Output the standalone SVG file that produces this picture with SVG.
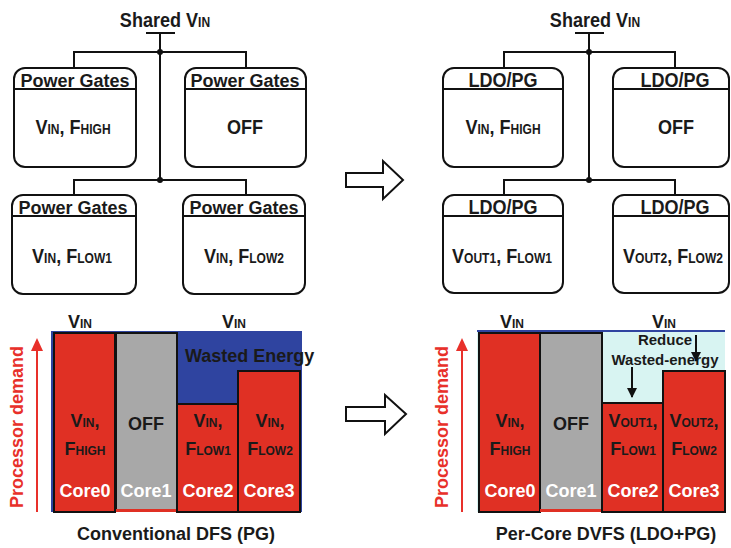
<svg xmlns="http://www.w3.org/2000/svg" width="731" height="548" viewBox="0 0 731 548">
<defs>
<style>
text{font-family:"Liberation Sans",Arial,sans-serif;font-weight:bold;font-size:18px;fill:#1a1a1a}
.c{text-anchor:middle}
.s{font-size:12px}
.big{font-size:21px}
.big .s{font-size:14px}
.box{fill:#fff;stroke:#111;stroke-width:2}
.ln{stroke:#111;stroke-width:2;fill:none}
.bar{fill:#e03024;stroke:#111;stroke-width:2}
.w{fill:#fff}
.r{fill:#e8302a}
.sm{font-size:15px}
.oa{fill:#fff;stroke:#111;stroke-width:2;stroke-linejoin:miter}
</style>
<marker id="ah" viewBox="0 0 10 10" refX="9" refY="5" markerWidth="5" markerHeight="5" orient="auto"><path d="M0,0 L10,5 L0,10 z" fill="#111"/></marker>
</defs>

<g id="tl-title"><text class="c big" transform="translate(165,27) scale(0.86,1)">Shared V<tspan class="s">IN</tspan></text></g>
<g id="connectors">
<path class="ln" d="M146,33 H175" stroke-width="4"/>
<path class="ln" d="M160,33 V180 M74,68 V52 H246 V68 M74,195 V180 H246 V195"/>
<circle cx="160" cy="52" r="3" fill="#111"/>
<circle cx="160" cy="180" r="3" fill="#111"/>
<path class="ln" d="M589,33 V180 M504,68 V52 H675 V68 M504,195 V180 H675 V195"/>
<path class="ln" d="M575,33 H604" stroke-width="4"/>
<circle cx="589" cy="52" r="3" fill="#111"/>
<circle cx="589" cy="180" r="3" fill="#111"/>
</g>
<g id="tl-box1"><rect class="box" x="14" y="68" width="122" height="99" rx="11"/><path class="ln" d="M14,89 H136"/>
<text class="c" x="75" y="87">Power Gates</text><text class="c big" transform="translate(73,134) scale(0.86,1)">V<tspan class="s">IN</tspan>, F<tspan class="s">HIGH</tspan></text></g>
<g id="tl-box2"><rect class="box" x="185" y="68" width="121" height="99" rx="11"/><path class="ln" d="M185,89 H306"/>
<text class="c" x="245" y="87">Power Gates</text><text class="c big" transform="translate(245,134) scale(0.86,1)">OFF</text></g>
<g id="tl-box3"><rect class="box" x="12" y="195" width="124" height="99" rx="11"/><path class="ln" d="M12,216 H136"/>
<text class="c" x="73" y="214">Power Gates</text><text class="c big" transform="translate(72,263) scale(0.86,1)">V<tspan class="s">IN</tspan>, F<tspan class="s">LOW1</tspan></text></g>
<g id="tl-box4"><rect class="box" x="183" y="195" width="122" height="99" rx="11"/><path class="ln" d="M183,216 H305"/>
<text class="c" x="244" y="214">Power Gates</text><text class="c big" transform="translate(244,263) scale(0.86,1)">V<tspan class="s">IN</tspan>, F<tspan class="s">LOW2</tspan></text></g>

<g id="tr-title"><text class="c big" transform="translate(595,27) scale(0.86,1)">Shared V<tspan class="s">IN</tspan></text></g>
<g id="tr-box1"><rect class="box" x="443" y="68" width="120" height="99" rx="11"/><path class="ln" d="M443,89 H563"/>
<text class="c big" transform="translate(503,87) scale(0.86,1)">LDO/PG</text><text class="c big" transform="translate(503,134) scale(0.86,1)">V<tspan class="s">IN</tspan>, F<tspan class="s">HIGH</tspan></text></g>
<g id="tr-box2"><rect class="box" x="613" y="68" width="116" height="99" rx="11"/><path class="ln" d="M613,89 H729"/>
<text class="c big" transform="translate(675,87) scale(0.86,1)">LDO/PG</text><text class="c big" transform="translate(676,134) scale(0.86,1)">OFF</text></g>
<g id="tr-box3"><rect class="box" x="443" y="195" width="120" height="98" rx="11"/><path class="ln" d="M443,216 H563"/>
<text class="c big" transform="translate(503,214) scale(0.86,1)">LDO/PG</text><text class="c big" transform="translate(502,263) scale(0.86,1)">V<tspan class="s">OUT1</tspan>, F<tspan class="s">LOW1</tspan></text></g>
<g id="tr-box4"><rect class="box" x="613" y="195" width="116" height="98" rx="11"/><path class="ln" d="M613,216 H729"/>
<text class="c big" transform="translate(675,214) scale(0.86,1)">LDO/PG</text><text class="c big" transform="translate(673,263) scale(0.86,1)">V<tspan class="s">OUT2</tspan>, F<tspan class="s">LOW2</tspan></text></g>

<g id="arrow-top"><polygon class="oa" points="346,173 383,173 383,161 403,180 383,199 383,187 346,187"/></g>
<g id="arrow-bottom"><polygon class="oa" points="346,407 385,407 385,395 406,414 385,434 385,421 346,421"/></g>

<g id="bl-chart">
<rect x="51" y="331" width="251" height="181" fill="#2f44a0"/>
<rect class="bar" x="54" y="333" width="61" height="179"/>
<rect x="116" y="333" width="61" height="177" fill="#a8a8a8" stroke="#111" stroke-width="2"/>
<rect x="116" y="509" width="61" height="3" fill="#e03024"/>
<rect class="bar" x="177" y="404" width="61" height="108"/>
<rect class="bar" x="238" y="371" width="62" height="141"/>
<text x="68" y="328">V<tspan class="s">IN</tspan></text>
<text x="222" y="328">V<tspan class="s">IN</tspan></text>
<text x="185" y="362">Wasted Energy</text>
<text class="c" x="85" y="427">V<tspan class="s">IN</tspan>,</text>
<text class="c" x="85" y="455">F<tspan class="s">HIGH</tspan></text>
<text class="c w" x="85" y="497">Core0</text>
<text class="c" x="146" y="430">OFF</text>
<text class="c w" x="146" y="497">Core1</text>
<text class="c" x="208" y="427">V<tspan class="s">IN</tspan>,</text>
<text class="c" x="208" y="455">F<tspan class="s">LOW1</tspan></text>
<text class="c w" x="208" y="497">Core2</text>
<text class="c" x="270" y="427">V<tspan class="s">IN</tspan>,</text>
<text class="c" x="270" y="455">F<tspan class="s">LOW2</tspan></text>
<text class="c w" x="269" y="497">Core3</text>
<text class="c r" transform="translate(23,427) rotate(-90)">Processor demand</text>
<path d="M37,512 V350" stroke="#e8302a" stroke-width="2"/>
<polygon points="37,338 43,351 31,351" fill="#e8302a"/>
<text class="c" x="176" y="540">Conventional DFS (PG)</text>
</g>

<g id="br-chart">
<rect x="477" y="331" width="248" height="181" fill="#d8f4f2"/>
<path d="M477,331 H725" stroke="#2f44a0" stroke-width="2"/>
<rect class="bar" x="479" y="333" width="61" height="179"/>
<rect x="540" y="333" width="62" height="177" fill="#a8a8a8" stroke="#111" stroke-width="2"/>
<rect x="540" y="509" width="62" height="3" fill="#e03024"/>
<rect class="bar" x="602" y="403" width="61" height="109"/>
<rect class="bar" x="663" y="371" width="62" height="141"/>
<text x="500" y="328">V<tspan class="s">IN</tspan></text>
<text x="652" y="328">V<tspan class="s">IN</tspan></text>
<text class="c sm" x="665" y="345">Reduce</text>
<text class="c sm" x="665" y="365">Wasted-energy</text>
<path class="ln" d="M632,367 V397" marker-end="url(#ah)"/>
<path class="ln" d="M696,335 V361" marker-end="url(#ah)"/>
<text class="c" x="510" y="427">V<tspan class="s">IN</tspan>,</text>
<text class="c" x="510" y="455">F<tspan class="s">HIGH</tspan></text>
<text class="c w" x="510" y="497">Core0</text>
<text class="c" x="571" y="430">OFF</text>
<text class="c w" x="571" y="497">Core1</text>
<text class="c" x="633" y="427">V<tspan class="s">OUT1</tspan>,</text>
<text class="c" x="633" y="455">F<tspan class="s">LOW1</tspan></text>
<text class="c w" x="633" y="497">Core2</text>
<text class="c" x="694" y="427">V<tspan class="s">OUT2</tspan>,</text>
<text class="c" x="694" y="455">F<tspan class="s">LOW2</tspan></text>
<text class="c w" x="694" y="497">Core3</text>
<text class="c r" transform="translate(448,427) rotate(-90)">Processor demand</text>
<path d="M462,512 V350" stroke="#e8302a" stroke-width="2"/>
<polygon points="462,338 468,351 456,351" fill="#e8302a"/>
<text class="c" x="606" y="540">Per-Core DVFS (LDO+PG)</text>
</g>
</svg>
